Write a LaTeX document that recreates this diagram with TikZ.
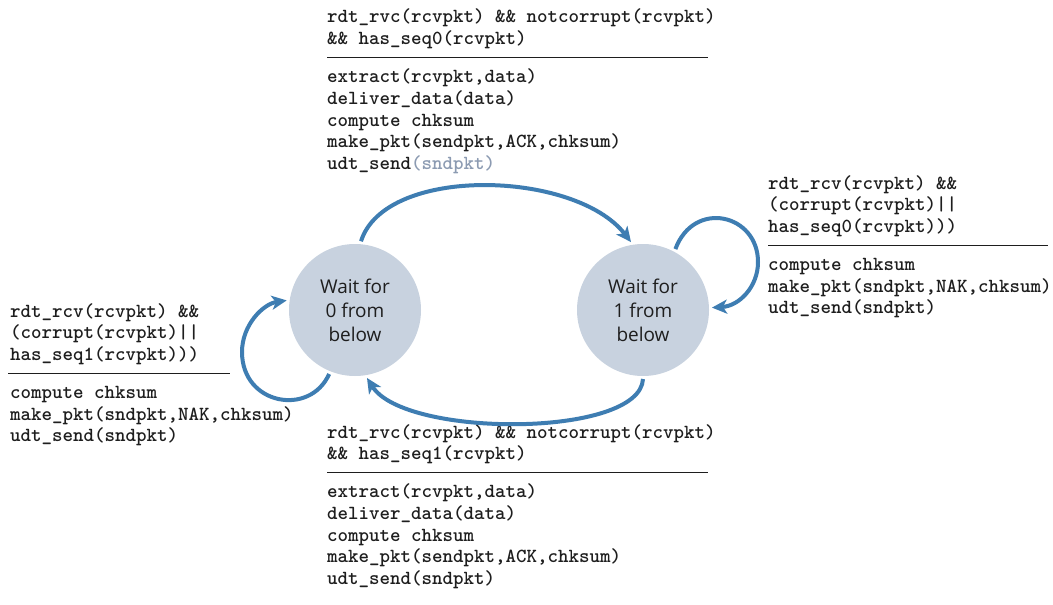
\documentclass[tikz,border=0pt]{standalone}
\usepackage{fontspec}
\newfontfamily\sansf{Open Sans}
\usetikzlibrary{arrows.meta}
\definecolor{arrowblue}{RGB}{62,125,178}
\definecolor{statefill}{RGB}{200,210,223}
\definecolor{txt}{RGB}{30,30,30}
\definecolor{fadedtxt}{RGB}{140,155,178}
\newcommand\blk[1]{\vtop{\baselineskip=21.7pt\lineskip=0pt\lineskiplimit=-100pt\halign{##\hfil\cr#1\crcr}}}
\begin{document}
\begin{tikzpicture}[x=1pt,y=1pt,
  state/.style={circle,fill=statefill,draw=none,minimum size=132pt,inner sep=0pt,outer sep=3pt,
    font=\sansf\fontsize{19}{24}\selectfont,align=center,text=txt},
  code/.style={anchor=base west,inner sep=0pt,font=\ttfamily\bfseries\fontsize{20}{21.7}\selectfont,text=txt},
  rulel/.style={line width=1.4pt,draw=txt},
  arr/.style={draw=arrowblue,line width=4pt,-{Stealth[length=15pt,width=14pt,inset=4pt]}}]
\useasboundingbox (0,0) rectangle (1053,-605);
\fill[white] (0,0) rectangle (1053,-605);

% states
\node[state] (L) at (355,-310) {Wait for\\0 from\\below};
\node[state] (R) at (643,-310) {Wait for\\1 from\\below};

% top transition label
\node[code] (tg) at (327,-23) {\blk{rdt\_rvc(rcvpkt) \&\& notcorrupt(rcvpkt)\cr \&\& has\_seq0(rcvpkt)}};
\draw[rulel] (327,-57.7) -- (708,-57.7);
\node[code] (ta) at (327,-82.7) {\blk{extract(rcvpkt,data)\cr deliver\_data(data)\cr compute chksum\cr make\_pkt(sendpkt,ACK,chksum)\cr udt\_send{\color{fadedtxt}(sndpkt)}}};

% right self-loop label
\node[code] (rg) at (768,-189) {\blk{rdt\_rcv(rcvpkt) \&\&\cr (corrupt(rcvpkt)||\cr has\_seq0(rcvpkt)))}};
\draw[rulel] (768,-245.4) -- (1048,-245.4);
\node[code] (ra) at (768,-270.4) {\blk{compute chksum\cr make\_pkt(sndpkt,NAK,chksum)\cr udt\_send(sndpkt)}};

% left self-loop label
\node[code] (lg) at (10,-317) {\blk{rdt\_rcv(rcvpkt) \&\&\cr (corrupt(rcvpkt)||\cr has\_seq1(rcvpkt)))}};
\draw[rulel] (8,-373.4) -- (230,-373.4);
\node[code] (la) at (10,-398.4) {\blk{compute chksum\cr make\_pkt(sndpkt,NAK,chksum)\cr udt\_send(sndpkt)}};

% bottom transition label
\node[code] (bg) at (327,-438) {\blk{rdt\_rvc(rcvpkt) \&\& notcorrupt(rcvpkt)\cr \&\& has\_seq1(rcvpkt)}};
\draw[rulel] (327,-472.7) -- (708,-472.7);
\node[code] (ba) at (327,-497.7) {\blk{extract(rcvpkt,data)\cr deliver\_data(data)\cr compute chksum\cr make\_pkt(sendpkt,ACK,chksum)\cr udt\_send(sndpkt)}};

% transitions
\draw[arr] (L.85) .. controls (385,-165) and (575,-170) .. (R.100);
\draw[arr] (R.-90) .. controls (640,-438) and (405,-438) .. (L.-80);
\draw[arr] (R.62) .. controls (694,-199) and (758,-214) .. (758,-262) .. controls (758,-287) and (739,-306) .. (R.2);
\draw[arr] (L.-112) .. controls (310,-417) and (242,-405) .. (242,-352) .. controls (242,-325) and (263,-304) .. (L.172);
\end{tikzpicture}
\end{document}
